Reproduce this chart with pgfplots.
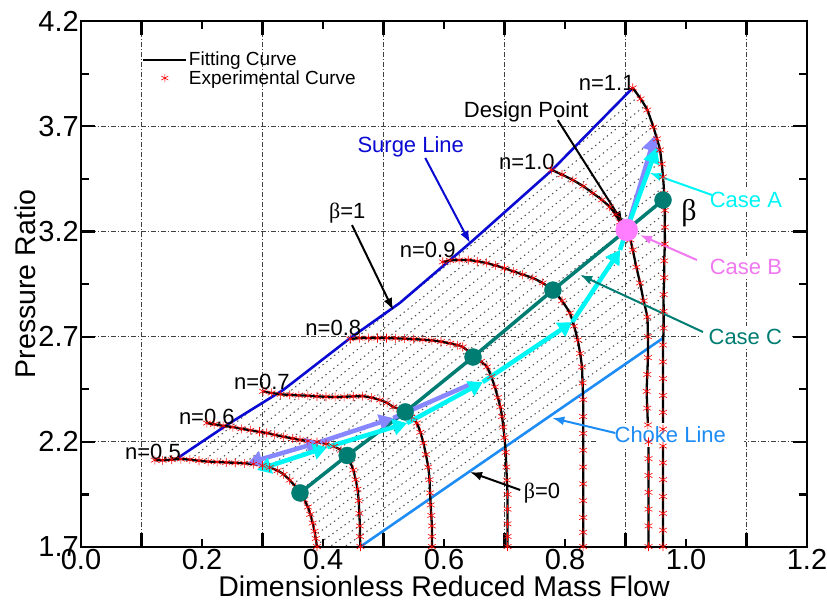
\documentclass[border=0pt]{standalone}
\usepackage{pgfplots}
\usepackage{pgfplotstable}
\pgfplotsset{compat=1.18}
\usepackage{fontspec}
\setmainfont{Liberation Sans}
\newfontfamily\greek{Liberation Serif}
\usetikzlibrary{arrows.meta}
\definecolor{surge}{RGB}{10,10,210}
\definecolor{choke}{RGB}{30,140,245}
\definecolor{caseA}{RGB}{0,245,245}
\definecolor{caseB}{RGB}{240,120,240}
\definecolor{caseC}{RGB}{0,125,115}
\definecolor{lav}{RGB}{135,135,255}
\definecolor{dp}{RGB}{255,125,255}
\pgfplotsset{
  legline/.style={legend image code/.code={\draw[##1] (0pt,0pt) -- (43pt,0pt);}},
  legmark/.style={legend image code/.code={\draw[only marks,##1] plot coordinates {(21.5pt,0pt)};}},
}

\pgfplotstableread{
x y
0.122 2.113
0.135 2.112
0.150 2.115
0.165 2.118
0.180 2.115
0.195 2.110
0.210 2.106
0.225 2.104
0.240 2.102
0.255 2.100
0.270 2.098
0.285 2.094
0.300 2.087
0.312 2.078
0.325 2.063
0.335 2.045
0.345 2.018
0.355 1.985
0.362 1.957
0.369 1.925
0.375 1.890
0.379 1.855
0.383 1.814
0.386 1.775
0.388 1.740
0.390 1.702
}\nfive
\pgfplotstableread{
x y
0.208 2.289
0.220 2.283
0.235 2.276
0.251 2.270
0.265 2.262
0.280 2.255
0.295 2.247
0.307 2.242
0.320 2.233
0.335 2.224
0.350 2.216
0.362 2.209
0.375 2.204
0.390 2.199
0.405 2.190
0.418 2.178
0.430 2.160
0.437 2.140
0.444 2.110
0.450 2.066
0.454 2.020
0.457 1.975
0.459 1.920
0.460 1.860
0.461 1.800
0.461 1.750
0.462 1.702
}\nsix
\pgfplotstableread{
x y
0.301 2.440
0.315 2.432
0.330 2.426
0.345 2.423
0.360 2.421
0.375 2.419
0.390 2.416
0.405 2.414
0.420 2.413
0.435 2.414
0.450 2.416
0.465 2.417
0.480 2.410
0.494 2.399
0.506 2.385
0.516 2.366
0.527 2.355
0.536 2.342
0.546 2.318
0.555 2.289
0.561 2.245
0.566 2.194
0.570 2.140
0.574 2.080
0.576 2.020
0.577 1.957
0.578 1.900
0.579 1.850
0.580 1.800
0.580 1.750
0.580 1.702
}\nseven
\pgfplotstableread{
x y
0.445 2.689
0.460 2.693
0.475 2.693
0.490 2.693
0.505 2.693
0.520 2.692
0.535 2.690
0.550 2.688
0.565 2.685
0.580 2.682
0.595 2.676
0.610 2.668
0.622 2.660
0.631 2.651
0.641 2.628
0.648 2.603
0.661 2.582
0.671 2.556
0.678 2.510
0.684 2.461
0.689 2.410
0.693 2.366
0.696 2.320
0.698 2.270
0.700 2.220
0.702 2.150
0.703 2.080
0.704 2.018
0.705 1.950
0.705 1.880
0.705 1.810
0.705 1.750
0.705 1.702
}\neight
\pgfplotstableread{
x y
0.598 3.055
0.610 3.062
0.625 3.064
0.640 3.064
0.655 3.058
0.670 3.050
0.685 3.038
0.700 3.025
0.715 3.010
0.730 2.995
0.747 2.978
0.763 2.955
0.780 2.921
0.795 2.870
0.808 2.812
0.815 2.750
0.821 2.684
0.825 2.620
0.828 2.556
0.829 2.480
0.830 2.400
0.830 2.320
0.830 2.240
0.830 2.160
0.830 2.080
0.830 2.000
0.830 1.920
0.830 1.840
0.830 1.770
0.830 1.702
}\nnine
\pgfplotstableread{
x y
0.778 3.492
0.795 3.470
0.813 3.444
0.830 3.415
0.846 3.382
0.861 3.350
0.874 3.316
0.884 3.280
0.891 3.245
0.902 3.207
0.908 3.160
0.912 3.112
0.918 3.030
0.924 2.955
0.930 2.870
0.936 2.793
0.937 2.700
0.937 2.600
0.936 2.520
0.935 2.440
0.936 2.360
0.937 2.280
0.938 2.200
0.938 2.120
0.938 2.040
0.938 1.960
0.938 1.880
0.938 1.800
0.938 1.702
}\nten
\pgfplotstableread{
x y
0.912 3.882
0.925 3.830
0.936 3.777
0.946 3.696
0.952 3.640
0.957 3.587
0.960 3.520
0.962 3.459
0.964 3.380
0.965 3.300
0.965 3.220
0.965 3.140
0.964 3.060
0.964 2.980
0.963 2.900
0.963 2.820
0.963 2.740
0.962 2.660
0.962 2.580
0.962 2.500
0.962 2.420
0.962 2.340
0.962 2.260
0.962 2.180
0.962 2.100
0.962 2.020
0.962 1.940
0.962 1.860
0.962 1.780
0.962 1.702
}\neleven

\begin{document}
\begin{tikzpicture}
\begin{axis}[
  at={(0pt,0pt)}, anchor=south west,
  scale only axis, width=726pt, height=526pt,
  xmin=0, xmax=1.2, ymin=1.7, ymax=4.2,
  axis line style={line width=2.4pt},
  tick align=inside, tick pos=both,
  major tick length=14pt, minor tick length=8pt,
  every tick/.style={black, line width=2.2pt},
  xtick={0.1,0.3,0.5,0.7,0.9,1.1}, xticklabels={},
  minor xtick={0,0.2,0.4,0.6,0.8,1.0,1.2},
  extra x ticks={0,0.2,0.4,0.6,0.8,1.0,1.2},
  extra x tick labels={0.0,0.2,0.4,0.6,0.8,1.0,1.2},
  extra x tick style={grid=none, major tick length=0pt},
  ytick={1.7,2.2,2.7,3.2,3.7,4.2},
  yticklabels={1.7,2.2,2.7,3.2,3.7,4.2},
  minor ytick={1.95,2.45,2.95,3.45,3.95},
  xmajorgrids=true, ymajorgrids=true,
  major grid style={dash pattern=on 5pt off 2pt on 1pt off 2pt, black!75, line width=0.9pt},
  tick label style={font=\fontsize{29}{30}\selectfont},
  xticklabel style={inner sep=2pt},
  yticklabel style={inner sep=2pt},
  xlabel={Dimensionless Reduced Mass Flow},
  ylabel={Pressure Ratio},
  label style={font=\fontsize{28.5}{30}\selectfont},
  xlabel style={at={(axis description cs:0.5,-0.0551)}, anchor=north, inner sep=0pt},
  ylabel style={at={(axis description cs:-0.0620,0.5)}, anchor=south, inner sep=0pt},
  legend style={at={(axis description cs:0.084,0.944)}, anchor=north west, draw=none, fill=none,
    font=\fontsize{19}{21}\selectfont, row sep=0pt, inner sep=0pt, nodes={inner sep=1.5pt}},
  legend cell align=left,
  betaline/.style={black!70, line width=1pt, dash pattern=on 1.4pt off 3.6pt, forget plot},
  expmark/.style={only marks, mark=asterisk, red, mark size=4.5pt, line width=0.6pt, forget plot},
  fitline/.style={black, line width=2.3pt, smooth, tension=0.4, forget plot},
]
\addlegendimage{black, line width=2.3pt, legline}
\addlegendentry{Fitting Curve}
\addlegendimage{red, mark=asterisk, mark size=4pt, line width=0.6pt, legmark}
\addlegendentry{Experimental Curve}

% beta lines
\begin{scope}
\clip (axis cs:0.160,2.123) -- (axis cs:0.246,2.289) -- (axis cs:0.334,2.446) -- (axis cs:0.445,2.693)
 -- (axis cs:0.527,2.860) -- (axis cs:0.643,3.145) -- (axis cs:0.778,3.490) -- (axis cs:0.912,3.882)
 -- (axis cs:0.925,3.830) -- (axis cs:0.936,3.777) -- (axis cs:0.946,3.696) -- (axis cs:0.957,3.587)
 -- (axis cs:0.962,3.459) -- (axis cs:0.965,3.300) -- (axis cs:0.964,3.000) -- (axis cs:0.963,2.800)
 -- (axis cs:0.962,2.693) -- (axis cs:0.461,1.700) -- (axis cs:0.390,1.700) -- (axis cs:0.386,1.775)
 -- (axis cs:0.383,1.814) -- (axis cs:0.375,1.890) -- (axis cs:0.362,1.957) -- (axis cs:0.345,2.018)
 -- (axis cs:0.325,2.063) -- (axis cs:0.300,2.087) -- (axis cs:0.270,2.098) -- (axis cs:0.240,2.102)
 -- (axis cs:0.195,2.110) -- cycle;
\addplot[betaline] coordinates {(0.027,1.758)(0.988,3.995)};
\addplot[betaline] coordinates {(0.045,1.745)(0.990,3.931)};
\addplot[betaline] coordinates {(0.062,1.731)(0.992,3.868)};
\addplot[betaline] coordinates {(0.080,1.717)(0.992,3.805)};
\addplot[betaline] coordinates {(0.097,1.704)(0.994,3.742)};
\addplot[betaline] coordinates {(0.115,1.690)(0.995,3.678)};
\addplot[betaline] coordinates {(0.132,1.677)(0.996,3.615)};
\addplot[betaline] coordinates {(0.150,1.664)(0.997,3.551)};
\addplot[betaline] coordinates {(0.167,1.650)(0.998,3.488)};
\addplot[betaline] coordinates {(0.185,1.636)(1.000,3.425)};
\addplot[betaline] coordinates {(0.203,1.622)(1.001,3.362)};
\addplot[betaline] coordinates {(0.220,1.609)(1.002,3.299)};
\addplot[betaline] coordinates {(0.238,1.596)(1.003,3.235)};
\addplot[betaline] coordinates {(0.255,1.582)(1.005,3.172)};
\addplot[betaline] coordinates {(0.273,1.569)(1.006,3.109)};
\addplot[betaline] coordinates {(0.291,1.556)(1.007,3.046)};
\addplot[betaline] coordinates {(0.308,1.541)(1.008,2.982)};
\addplot[betaline] coordinates {(0.326,1.528)(1.010,2.919)};
\addplot[betaline] coordinates {(0.343,1.515)(1.011,2.855)};
\end{scope}

% surge and choke lines
\addplot[surge, line width=2.6pt, forget plot] coordinates {(0.160,2.123)(0.246,2.289)(0.334,2.446)(0.445,2.693)(0.527,2.860)(0.643,3.145)(0.778,3.490)(0.912,3.882)};
\addplot[choke, line width=2.6pt, forget plot] coordinates {(0.461,1.700)(0.962,2.693)};

% experimental markers
\addplot[expmark] table {\nfive};
\addplot[expmark] table {\nsix};
\addplot[expmark] table {\nseven};
\addplot[expmark] table {\neight};
\addplot[expmark] table {\nnine};
\addplot[expmark] table {\nten};
\addplot[expmark] table {\neleven};
% fitting curves
\addplot[fitline] table {\nfive};
\addplot[fitline] table {\nsix};
\addplot[fitline] table {\nseven};
\addplot[fitline] table {\neight};
\addplot[fitline] table {\nnine};
\addplot[fitline] table {\nten};
\addplot[fitline] table {\neleven};

% Case C
\addplot[caseC, line width=3.5pt, forget plot] coordinates {(0.362,1.957)(0.440,2.135)(0.536,2.342)(0.648,2.603)(0.780,2.921)(0.902,3.207)(0.962,3.349)};
\addplot[caseC, only marks, mark=*, mark size=8.5pt, forget plot] coordinates {(0.362,1.957)(0.440,2.135)(0.536,2.342)(0.648,2.603)(0.780,2.921)(0.962,3.349)};

% lavender path
\addplot[lav, line width=4.5pt, {Triangle[length=14pt,width=16pt]}-{Triangle[length=14pt,width=16pt]}, forget plot] coordinates {(0.276,2.099)(0.395,2.199)};
\addplot[lav, line width=4.5pt, -{Triangle[length=14pt,width=16pt]}, forget plot] coordinates {(0.395,2.199)(0.516,2.313)};
\addplot[lav, line width=4.5pt, forget plot] coordinates {(0.516,2.313)(0.648,2.479)};
\addplot[lav, line width=4.5pt, -{Triangle[length=16pt,width=16pt]}, forget plot] coordinates {(0.902,3.207)(0.949,3.658)};

% cyan path (Case A)
\addplot[caseA, line width=4.5pt, {Triangle[length=14pt,width=16pt]}-{Triangle[length=14pt,width=16pt]}, forget plot] coordinates {(0.291,2.066)(0.407,2.175)};
\addplot[caseA, line width=4.5pt, -{Triangle[length=14pt,width=16pt]}, forget plot] coordinates {(0.407,2.175)(0.539,2.289)};
\addplot[caseA, line width=4.5pt, -{Triangle[length=14pt,width=16pt]}, forget plot] coordinates {(0.539,2.289)(0.664,2.484)};
\addplot[caseA, line width=4.5pt, -{Triangle[length=14pt,width=16pt]}, forget plot] coordinates {(0.664,2.484)(0.812,2.769)};
\addplot[caseA, line width=4.5pt, -{Triangle[length=14pt,width=16pt]}, forget plot] coordinates {(0.812,2.769)(0.891,3.112)};
\addplot[caseA, line width=4.5pt, forget plot] coordinates {(0.891,3.112)(0.902,3.207)};
\addplot[caseA, line width=4.5pt, -{Triangle[length=16pt,width=16pt]}, forget plot] coordinates {(0.902,3.207)(0.952,3.600)};

% design point
\addplot[dp, only marks, mark=*, mark size=11pt, forget plot] coordinates {(0.902,3.207)};

% annotations
\tikzset{lab/.style={font=\fontsize{22}{24}\selectfont, inner sep=1pt}}
\node[lab] at (axis cs:0.869,3.905) {n=1.1};
\node[lab] at (axis cs:0.737,3.530) {n=1.0};
\node[lab] at (axis cs:0.573,3.112) {n=0.9};
\node[lab] at (axis cs:0.417,2.741) {n=0.8};
\node[lab] at (axis cs:0.299,2.484) {n=0.7};
\node[lab] at (axis cs:0.208,2.318) {n=0.6};
\node[lab] at (axis cs:0.119,2.152) {n=0.5};
\node[lab] at (axis cs:0.736,3.767) {Design Point};
\draw[black, line width=2pt, -{Latex[length=12pt,width=9pt]}] (axis cs:0.788,3.729) -- (axis cs:0.896,3.240);
\node[lab, text=surge] at (axis cs:0.545,3.601) {Surge Line};
\draw[surge, line width=2pt, -{Latex[length=12pt,width=9pt]}] (axis cs:0.569,3.549) -- (axis cs:0.643,3.145);
\node[lab] at (axis cs:0.440,3.287) {{\greek β}=1};
\draw[black, line width=2pt, -{Latex[length=12pt,width=9pt]}] (axis cs:0.448,3.230) -- (axis cs:0.516,2.826);
\node[lab] at (axis cs:0.762,1.957) {{\greek β}=0};
\draw[black, line width=2pt, -{Latex[length=12pt,width=9pt]}] (axis cs:0.726,1.971) -- (axis cs:0.643,2.056);
\node[lab, text=choke, fill=white, inner xsep=18pt, inner ysep=4pt] at (axis cs:0.974,2.232) {Choke Line};
\draw[choke, line width=2pt, -{Latex[length=12pt,width=9pt]}] (axis cs:0.883,2.242) -- (axis cs:0.779,2.313);
\node[lab, text=caseA, fill=white, inner xsep=10pt, inner ysep=3pt] at (axis cs:1.099,3.349) {Case A};
\draw[caseA, line width=2pt, -{Latex[length=12pt,width=9pt]}] (axis cs:1.043,3.373) -- (axis cs:0.940,3.478);
\node[lab, text=caseB, fill=white, inner xsep=10pt, inner ysep=3pt] at (axis cs:1.099,3.031) {Case B};
\draw[caseB, line width=2pt, -{Latex[length=12pt,width=9pt]}] (axis cs:1.018,3.064) -- (axis cs:0.924,3.183);
\node[lab, text=caseC, fill=white, inner xsep=10pt, inner ysep=3pt] at (axis cs:1.098,2.698) {Case C};
\draw[caseC, line width=2pt, -{Latex[length=12pt,width=9pt]}] (axis cs:1.028,2.722) -- (axis cs:0.825,2.993);
\node[font=\fontsize{30}{32}\selectfont\greek] at (axis cs:1.005,3.287) {β};
\end{axis}
\pgfresetboundingbox
\path[use as bounding box] (-81pt,-59pt) rectangle (746pt,547pt);
\end{tikzpicture}
\end{document}
